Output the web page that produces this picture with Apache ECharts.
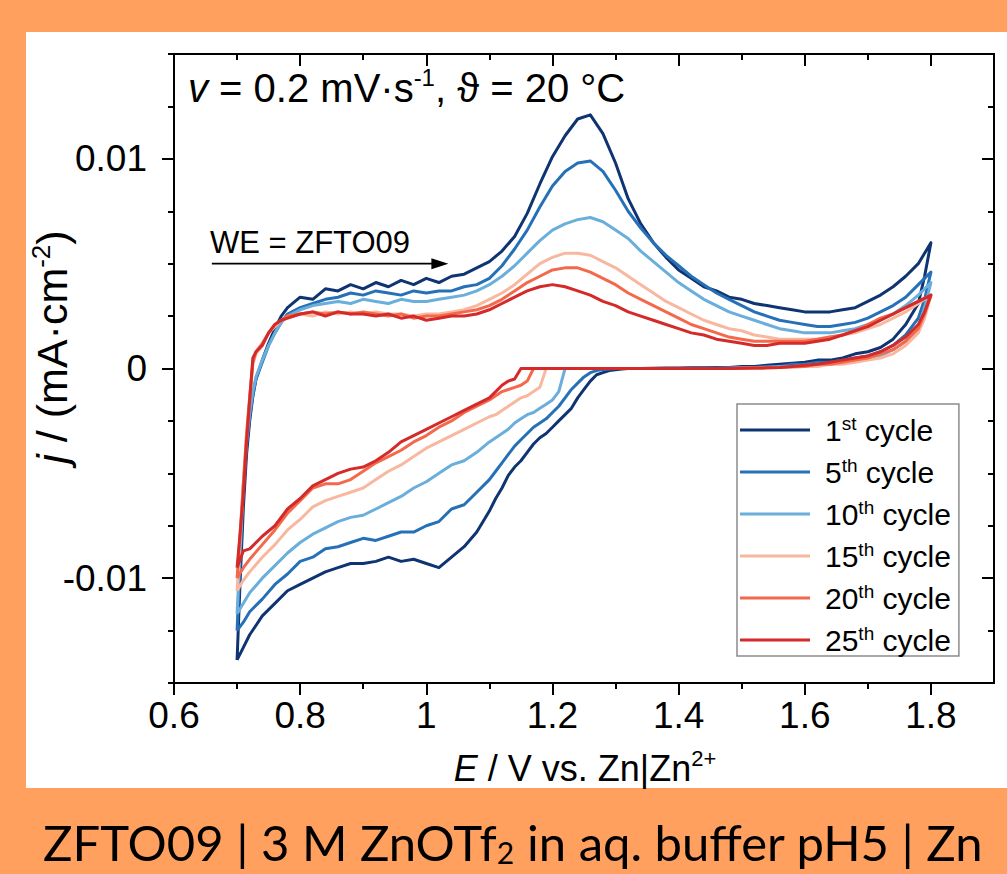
<!DOCTYPE html>
<html><head><meta charset="utf-8">
<script src="https://cdn.jsdelivr.net/npm/echarts@6/dist/echarts.min.js"></script>
<style>
html,body{margin:0;padding:0;background:#FFA05F;overflow:hidden;}
#panel{position:absolute;left:26px;top:32px;width:981px;height:756px;background:#fff;}
#chart{position:absolute;left:0;top:0;width:1007px;height:874px;}
</style></head><body>
<div id="panel"></div><div id="chart"></div>
<script>
// ---------- data ----------
const cycleNames = ['1st cycle','5th cycle','10th cycle','15th cycle','20th cycle','25th cycle'];
const cycleColors = ['#0f3472','#2670b8','#6aaedc','#f8b8a0','#f4694b','#d42a2a'];

const xMajorTicks = [0.6,0.8,1,1.2,1.4,1.6,1.8];
const xMinorTicks = [0.7,0.9,1.1,1.3,1.5,1.7];
const yMajorTicks = [-0.01,0,0.01];
const yMinorTicks = [-0.015,-0.0125,-0.0075,-0.005,-0.0025,0.0025,0.005,0.0075,0.0125,0.015];

// anodic (forward) potential grid, V
const E_forward = [0.700,0.705,0.710,0.715,0.720,0.725,0.730,0.740,0.750,0.760,0.770,0.780,
  0.80,0.82,0.84,0.86,0.88,0.90,0.92,0.94,0.96,0.98,1.00,
  1.02,1.04,1.06,1.08,1.10,1.12,1.14,1.16,1.18,1.20,
  1.22,1.24,1.26,1.28,1.30,1.32,1.34,1.36,1.38,1.40,
  1.42,1.44,1.46,1.48,1.50,1.52,1.54,1.56,1.58,1.60,
  1.62,1.64,1.66,1.68,1.70,1.72,1.74,1.76,1.78,1.80];
// cathodic (reverse) potential grid, V
const E_reverse = [1.80,1.79,1.78,1.76,1.74,1.72,1.70,1.68,1.66,1.64,1.62,1.60,1.58,
  1.56,1.54,1.52,1.50,1.48,1.46,1.44,1.42,1.40,1.38,1.36,1.34,1.32,
  1.31,1.30,1.29,1.28,1.27,1.26,1.25,1.24,1.23,1.22,1.21,
  1.20,1.19,1.18,1.17,1.16,1.15,1.14,1.13,1.12,1.11,1.10,
  1.08,1.06,1.04,1.02,1.00,0.98,0.96,0.94,0.92,0.90,
  0.88,0.86,0.84,0.82,0.80,0.78,0.76,0.74,0.72,
  0.71,0.70];

// current density j, mA cm^-2
const j1_forward = [-0.0139,-0.0100,-0.0066,-0.0041,-0.0025,-0.0013,-0.0005,0.0004,0.0012,0.0019,0.0025,0.0029,
  0.0034,0.0033,0.0038,0.0037,0.0040,0.0038,0.0041,0.0039,0.0042,0.0040,0.0043,
  0.0041,0.0044,0.0045,0.0048,0.0051,0.0056,0.0063,0.0074,0.0088,0.0101,
  0.0111,0.0119,0.0121,0.0112,0.0098,0.0081,0.0069,0.0060,0.0053,0.0047,
  0.0043,0.0039,0.0037,0.0034,0.0033,0.0031,0.0030,0.0029,0.0028,0.0027,
  0.0027,0.0027,0.0028,0.0029,0.0032,0.0035,0.0039,0.0044,0.0050,0.0060];
const j1_reverse = [0.0060,0.0044,0.0031,0.0021,0.0014,0.0010,0.0008,0.0007,0.0005,0.0004,0.0004,0.0003,0.00025,
  0.0002,0.00015,0.0001,0.0001,0.00005,0.00005,0.00003,0.00003,0.00002,0.00002,0.00001,0,0,
  -0.00003,-0.00006,-0.0001,-0.0002,-0.0003,-0.0006,-0.0010,-0.0014,-0.0019,-0.0022,-0.0025,
  -0.0028,-0.0031,-0.0033,-0.0036,-0.0040,-0.0044,-0.0047,-0.0051,-0.0057,-0.0062,-0.0068,
  -0.0078,-0.0085,-0.0090,-0.0095,-0.0093,-0.0091,-0.0092,-0.0090,-0.0092,-0.0093,
  -0.0093,-0.0095,-0.0097,-0.0100,-0.0103,-0.0106,-0.0112,-0.0118,-0.0127,
  -0.0133,-0.0139];

const j5_forward = [-0.0125,-0.0090,-0.0058,-0.0037,-0.0023,-0.0013,-0.0005,0.0003,0.0011,0.0017,0.0022,0.0026,
  0.0029,0.0031,0.0033,0.0034,0.0036,0.0035,0.0037,0.0036,0.0035,0.0037,0.0036,
  0.0037,0.0037,0.0039,0.0040,0.0043,0.0049,0.0057,0.0066,0.0077,0.0087,
  0.0094,0.0098,0.0099,0.0094,0.0085,0.0075,0.0067,0.0060,0.0054,0.0049,
  0.0044,0.0040,0.0036,0.0033,0.0030,0.0027,0.0025,0.0023,0.0022,0.0021,
  0.0020,0.0020,0.0021,0.0022,0.0024,0.0027,0.0030,0.0034,0.0040,0.0046];
const j5_reverse = [0.0046,0.0033,0.0024,0.0016,0.0011,0.0008,0.0006,0.0005,0.0004,0.0003,0.0003,0.0002,0.0002,
  0.0001,0.0001,0.00005,0.00005,0.00003,0.00002,0.00002,0.00001,0,0,0,0,0,
  0,0,-0.00002,-0.00005,-0.0001,-0.0002,-0.0004,-0.0007,-0.0010,-0.0014,-0.0018,
  -0.0021,-0.0024,-0.0026,-0.0028,-0.0031,-0.0034,-0.0037,-0.0041,-0.0045,-0.0049,-0.0053,
  -0.0059,-0.0065,-0.0067,-0.0073,-0.0075,-0.0078,-0.0078,-0.0080,-0.0082,-0.0081,
  -0.0083,-0.0085,-0.0086,-0.0090,-0.0092,-0.0098,-0.0103,-0.0110,-0.0116,
  -0.0121,-0.0125];

const j10_forward = [-0.0117,-0.0085,-0.0055,-0.0035,-0.0021,-0.0011,-0.0004,0.0004,0.0011,0.0017,0.0022,0.0025,
  0.0028,0.0030,0.0031,0.0032,0.0031,0.0033,0.0032,0.0031,0.0033,0.0032,0.0032,
  0.0033,0.0034,0.0035,0.0037,0.0040,0.0044,0.0049,0.0055,0.0061,0.0066,
  0.0069,0.0071,0.0072,0.0070,0.0066,0.0062,0.0056,0.0051,0.0046,0.0041,
  0.0037,0.0033,0.0030,0.0027,0.0025,0.0023,0.0021,0.0019,0.0018,0.0017,
  0.0017,0.0017,0.0018,0.0019,0.0021,0.0023,0.0026,0.0030,0.0035,0.0041];
const j10_reverse = [0.0041,0.0029,0.0020,0.0013,0.0009,0.0006,0.0005,0.0004,0.0003,0.0002,0.0002,0.00015,0.0001,
  0.0001,0.00005,0.00003,0.00002,0.00001,0,0,0,0,0,0,0,0,
  0,0,0,0,0,0,0,0,0,0,-0.0011,
  -0.0015,-0.0017,-0.0019,-0.0021,-0.0022,-0.0024,-0.0026,-0.0029,-0.0031,-0.0033,-0.0035,
  -0.0040,-0.0044,-0.0046,-0.0050,-0.0054,-0.0057,-0.0061,-0.0064,-0.0067,-0.0070,
  -0.0071,-0.0073,-0.0076,-0.0079,-0.0083,-0.0088,-0.0094,-0.0100,-0.0107,
  -0.0112,-0.0117];

const j15_forward = [-0.0106,-0.0080,-0.0054,-0.0031,-0.0013,0.0002,0.0007,0.0011,0.0017,0.0020,0.0023,0.0024,
  0.0026,0.0025,0.0027,0.0026,0.0027,0.0026,0.0027,0.0026,0.0026,0.0025,0.0026,
  0.0026,0.0027,0.0028,0.0030,0.0033,0.0036,0.0040,0.0045,0.0050,0.0053,
  0.0055,0.0055,0.0054,0.0051,0.0048,0.0044,0.0040,0.0036,0.0032,0.0029,
  0.0026,0.0023,0.0021,0.0019,0.0018,0.0016,0.0015,0.0014,0.0014,0.0014,
  0.0014,0.0015,0.0016,0.0017,0.0019,0.0021,0.0024,0.0027,0.0031,0.0035];
const j15_reverse = [0.0035,0.0024,0.0017,0.0011,0.0007,0.0005,0.0004,0.0003,0.0002,0.0002,0.0001,0.0001,0.00005,
  0.00005,0.00003,0.00002,0.00001,0,0,0,0,0,0,0,0,0,
  0,0,0,0,0,0,0,0,0,0,0,
  0,0,-0.0009,-0.0011,-0.0013,-0.0014,-0.0016,-0.0018,-0.0020,-0.0022,-0.0023,
  -0.0026,-0.0029,-0.0032,-0.0035,-0.0038,-0.0042,-0.0046,-0.0049,-0.0053,-0.0057,
  -0.0059,-0.0061,-0.0063,-0.0066,-0.0072,-0.0077,-0.0084,-0.0090,-0.0097,
  -0.0101,-0.0106];

const j20_forward = [-0.0100,-0.0078,-0.0055,-0.0032,-0.0014,0.0003,0.0008,0.0012,0.0017,0.0021,0.0023,0.0025,
  0.0026,0.0027,0.0026,0.0027,0.0026,0.0027,0.0026,0.0025,0.0026,0.0024,0.0025,
  0.0025,0.0026,0.0027,0.0028,0.0030,0.0033,0.0037,0.0041,0.0044,0.0047,
  0.0048,0.0048,0.0046,0.0043,0.0040,0.0036,0.0033,0.0030,0.0027,0.0024,
  0.0021,0.0019,0.0017,0.0015,0.0014,0.0013,0.0013,0.0013,0.0013,0.0013,
  0.0014,0.0015,0.0016,0.0018,0.0021,0.0024,0.0026,0.0029,0.0032,0.0035];
const j20_reverse = [0.0035,0.0026,0.0019,0.0013,0.0009,0.0007,0.0005,0.0004,0.0003,0.0002,0.0002,0.0001,0.0001,
  0.00005,0.00003,0.00002,0.00001,0,0,0,0,0,0,0,0,0,
  0,0,0,0,0,0,0,0,0,0,0,
  0,0,0,0,-0.0006,-0.0008,-0.0009,-0.0010,-0.0011,-0.0013,-0.0015,
  -0.0018,-0.0021,-0.0025,-0.0028,-0.0032,-0.0035,-0.0039,-0.0042,-0.0045,-0.0049,
  -0.0053,-0.0055,-0.0055,-0.0057,-0.0063,-0.0069,-0.0077,-0.0084,-0.0091,
  -0.0095,-0.0100];

const j25_forward = [-0.0095,-0.0078,-0.0060,-0.0035,-0.0015,0.0005,0.0008,0.0011,0.0017,0.0021,0.0023,0.0024,
  0.0026,0.0027,0.0025,0.0027,0.0026,0.0026,0.0025,0.0026,0.0024,0.0025,0.0023,
  0.0024,0.0025,0.0025,0.0026,0.0028,0.0031,0.0034,0.0037,0.0039,0.0040,
  0.0039,0.0037,0.0035,0.0032,0.0030,0.0027,0.0025,0.0023,0.0021,0.0019,
  0.0017,0.0016,0.0014,0.0013,0.0012,0.0011,0.0011,0.0012,0.0012,0.0012,
  0.0013,0.0014,0.0016,0.0018,0.0020,0.0023,0.0026,0.0029,0.0032,0.0035];
const j25_reverse = [0.0035,0.0027,0.0021,0.0015,0.0011,0.0008,0.0006,0.0005,0.0004,0.0003,0.0002,0.00015,0.0001,
  0.00005,0.00003,0.00002,0.00001,0,0,0,0,0,0,0,0,0,
  0,0,0,0,0,0,0,0,0,0,0,
  0,0,0,0,0,0,-0.0005,-0.0006,-0.0008,-0.0011,-0.0014,
  -0.0017,-0.0020,-0.0023,-0.0026,-0.0029,-0.0032,-0.0035,-0.0040,-0.0044,-0.0047,
  -0.0048,-0.0050,-0.0053,-0.0056,-0.0062,-0.0067,-0.0075,-0.0080,-0.0086,
  -0.0087,-0.0095];

const cyclesForward = [j1_forward,j5_forward,j10_forward,j15_forward,j20_forward,j25_forward];
const cyclesReverse = [j1_reverse,j5_reverse,j10_reverse,j15_reverse,j20_reverse,j25_reverse];

// ---------- chart ----------
const FONT = "'Liberation Sans', Arial, sans-serif";
const chart = echarts.init(document.getElementById('chart'), null, {renderer:'svg'});

function loop(fwd, rev){
  const d = [];
  E_forward.forEach((e,i)=>d.push([e, fwd[i]]));
  E_reverse.forEach((e,i)=>d.push([e, rev[i]]));
  return d;
}

function xAx(pos, ticks, len, inside, showLine, showLabel){
  return {type:'value', min:0.6, max:1.9, position:pos,
    axisLine:{show:showLine, onZero:false, lineStyle:{color:'#000', width:2}},
    axisTick:{show:true, inside:inside, length:len, customValues:ticks, lineStyle:{color:'#000', width:2}},
    axisLabel:{show:showLabel, customValues:ticks, color:'#000', fontSize:37, fontFamily:FONT, margin:14,
      formatter:v=>String(v)},
    splitLine:{show:false}};
}
function yAx(pos, ticks, len, inside, showLine, showLabel){
  return {type:'value', min:-0.015, max:0.015, position:pos,
    axisLine:{show:showLine, onZero:false, lineStyle:{color:'#000', width:2}},
    axisTick:{show:true, inside:inside, length:len, customValues:ticks, lineStyle:{color:'#000', width:2}},
    axisLabel:{show:showLabel, customValues:ticks, color:'#000', fontSize:37, fontFamily:FONT, margin:27,
      formatter:v=>(Math.abs(v)<1e-12?'0':String(v))},
    splitLine:{show:false}};
}

const legendRich = {
  n:{fontSize:30, fontFamily:FONT, color:'#000', lineHeight:32},
  s:{fontSize:19, fontFamily:FONT, color:'#000', lineHeight:18, verticalAlign:'top'}
};

const option = {
  animation:false,
  grid:{left:174, right:13, top:54, bottom:191, containLabel:false},
  xAxis:[
    xAx('bottom', xMajorTicks, 12, false, true, true),
    xAx('bottom', xMinorTicks, 6, false, false, false),
    xAx('top', xMajorTicks, 12, true, true, false),
    xAx('top', xMinorTicks, 6, true, false, false)
  ],
  yAxis:[
    yAx('left', yMajorTicks, 12, false, true, true),
    yAx('left', yMinorTicks, 6, false, false, false),
    yAx('right', yMajorTicks, 12, true, true, false),
    yAx('right', yMinorTicks, 6, true, false, false)
  ],
  legend:{
    data:cycleNames, orient:'vertical', left:737, top:404,
    icon:'rect', itemWidth:70, itemHeight:3, itemGap:10,
    padding:[10,8,0,3], borderColor:'#8c8c8c', borderWidth:1.5, backgroundColor:'#fff',
    selectedMode:false,
    textStyle:{fontSize:30, fontFamily:FONT, color:'#000', lineHeight:32, padding:[0,0,0,10], rich:legendRich},
    formatter:function(name){
      const m = name.match(/^(\d+)(st|nd|rd|th) (.*)$/);
      return '{n|'+m[1]+'}{s|'+m[2]+'}{n| '+m[3]+'}';
    }
  },
  series: cycleNames.map((nm,k)=>({
    name:nm, type:'line', xAxisIndex:0, yAxisIndex:0,
    data:loop(cyclesForward[k], cyclesReverse[k]),
    showSymbol:false, symbol:'none', smooth:false,
    color:cycleColors[k],
    lineStyle:{color:cycleColors[k], width:3, join:'round'},
    z:2+k
  }))
};
chart.setOption(option);

// annotations anchored to data coordinates
const a0 = chart.convertToPixel({xAxisIndex:0, yAxisIndex:0}, [0.66, 0.0050]);
const a1 = chart.convertToPixel({xAxisIndex:0, yAxisIndex:0}, [1.035, 0.0050]);
const t0 = chart.convertToPixel({xAxisIndex:0, yAxisIndex:0}, [0.657, 0.0060]);

function rich(size){
  return {
    n:{fontSize:size, fontFamily:FONT, color:'#000', lineHeight:Math.round(size*1.15)},
    i:{fontSize:size, fontFamily:FONT, color:'#000', lineHeight:Math.round(size*1.15), fontStyle:'italic'},
    s:{fontSize:Math.round(size*0.6), fontFamily:FONT, color:'#000', lineHeight:Math.round(size*0.6), verticalAlign:'top'}
  };
}

chart.setOption({
  graphic:[
    {type:'text', left:188, top:65, z:100,
      style:{text:'{i|v}{n| = 0.2 mV·s}{s|-1}{n|, ϑ = 20 °C}', rich:rich(40)}},
    {type:'text', x:t0[0], y:t0[1], z:100,
      style:{text:'WE = ZFTO09', font:"31px 'Liberation Sans', Arial, sans-serif", fill:'#000',
        textAlign:'left', textVerticalAlign:'middle'}},
    {type:'line', z:100, shape:{x1:a0[0], y1:a0[1], x2:a1[0]-14, y2:a1[1]},
      style:{stroke:'#000', lineWidth:1.8}},
    {type:'polygon', z:100, shape:{points:[[a1[0],a1[1]],[a1[0]-17,a1[1]-5.5],[a1[0]-17,a1[1]+5.5]]},
      style:{fill:'#000'}},
    {type:'text', x:52, y:347, rotation:Math.PI/2, z:100,
      style:{text:'{i|j}{n| / (mA·cm}{s|-2}{n|)}', rich:rich(43), textAlign:'center', textVerticalAlign:'middle'}},
    {type:'text', x:585, y:768, z:100,
      style:{text:'{i|E}{n| / V vs. Zn|Zn}{s|2+}', rich:rich(36), textAlign:'center', textVerticalAlign:'middle'}},
    {type:'text', x:513, y:842, z:100,
      style:{text:'{c|ZFTO09 | 3 M ZnOTf}{b|2}{c| in aq. buffer pH5 | Zn}', textAlign:'center', textVerticalAlign:'middle',
        rich:{
          c:{fontSize:49, fontFamily:"Lato, 'Open Sans', sans-serif", color:'#000', lineHeight:50},
          b:{fontSize:30, fontFamily:"Lato, 'Open Sans', sans-serif", color:'#000', lineHeight:26, verticalAlign:'bottom'}
        }}}
  ]
});
</script></body></html>
